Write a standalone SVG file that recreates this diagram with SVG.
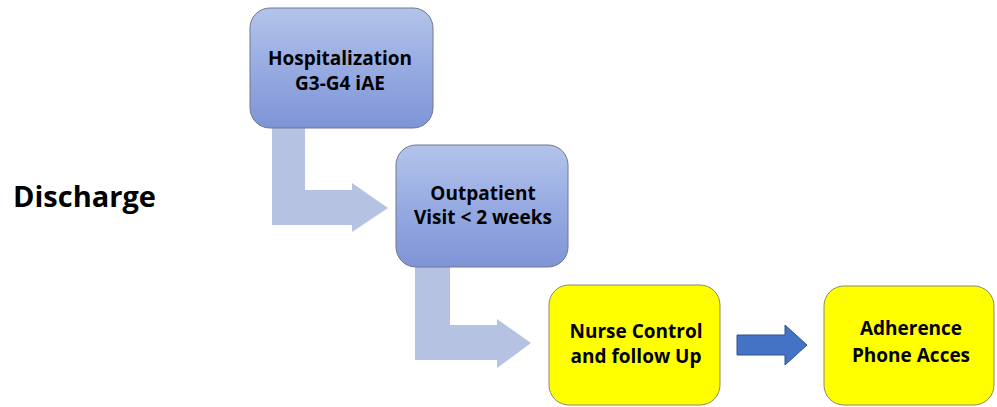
<svg xmlns="http://www.w3.org/2000/svg" width="997" height="407" viewBox="0 0 997 407">
<defs>
<linearGradient id="bg" x1="0" y1="0" x2="0" y2="1">
<stop offset="0" stop-color="#b3c4ea"/>
<stop offset="0.5" stop-color="#97abe2"/>
<stop offset="1" stop-color="#7f94d6"/>
</linearGradient>
<style>
.t{font-family:"Open Sans","Liberation Sans",sans-serif;font-weight:bold;fill:#000;text-anchor:middle;font-size:19px}
.blue{fill:url(#bg);stroke:#6f7890;stroke-width:1}
.yel{fill:#ffff00;stroke:#8a8a6a;stroke-width:1}
.conn{fill:#b5c2e2}
</style>
</defs>
<g id="connectors">
<path class="conn" d="M272 128 H305 V190 H352 V183 L388 208 L352 232 V225 H272 Z"/>
<path class="conn" d="M415 267 H450 V325 H497 V319 L531 343 L497 368 V360 H415 Z"/>
<path d="M737 335 H785 V325 L807 345 L785 365 V355 H737 Z" fill="#4472c4" stroke="#2f528f" stroke-width="1"/>
</g>
<g id="discharge">
<text x="13" y="207" style="font-family:'Open Sans','Liberation Sans',sans-serif;font-weight:bold;font-size:29px">Discharge</text>
</g>
<g id="hospitalization">
<rect class="blue" x="250" y="8" width="183" height="120" rx="20"/>
<text class="t" x="340" y="65">Hospitalization</text>
<text class="t" x="340" y="90">G3-G4 iAE</text>
</g>
<g id="outpatient">
<rect class="blue" x="396" y="145" width="172" height="122" rx="20"/>
<text class="t" x="483" y="200">Outpatient</text>
<text class="t" x="483" y="224">Visit &lt; 2 weeks</text>
</g>
<g id="nurse">
<rect class="yel" x="549" y="285" width="171" height="120" rx="20"/>
<text class="t" x="636" y="338">Nurse Control</text>
<text class="t" x="636" y="363">and follow Up</text>
</g>
<g id="adherence">
<rect class="yel" x="824" y="286" width="170" height="119" rx="20"/>
<text class="t" x="911" y="335">Adherence</text>
<text class="t" x="911" y="362">Phone Acces</text>
</g>
</svg>
